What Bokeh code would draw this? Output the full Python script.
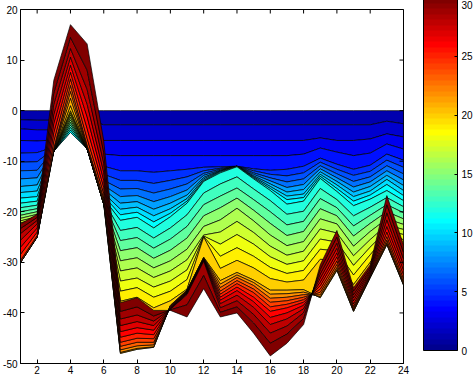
import numpy as np
from bokeh.plotting import figure
from bokeh.models import (Range1d, FixedTicker, ColorBar, LinearColorMapper, ColumnDataSource)
from bokeh.layouts import row
from bokeh.embed import file_html
from bokeh.resources import INLINE

# ---------------- data: stacked-area boundary levels c0..c30 at each x ----------------
x_values = list(range(1, 25))

levels_x01 = [0, -1.8, -3.6, -5.9, -8.4, -10.2, -11.9, -13.5, -15.0, -16.2, -17.3, -18.3, -19.2, -20.0, -20.7, -21.3, -21.8, -22.2, -22.6, -23.0, -30.0, -30.0, -30.0, -30.0, -29.6, -28.4, -27.0, -25.6, -24.3, -23.3, -22.4]
levels_x02 = [0, -1.9, -3.8, -6.0, -8.3, -10.1, -11.8, -13.3, -14.7, -15.9, -17.0, -17.9, -18.7, -19.4, -20.0, -20.5, -21.0, -21.4, -21.8, -22.2, -25.0, -25.0, -25.0, -25.0, -24.7, -24.0, -23.2, -22.4, -21.7, -21.1, -20.5]
levels_x03 = [0, -1.9, -3.8, -5.8, -7.2, -7.6, -7.8, -7.9, -8.0, -8.0, -8.0, -8.0, -8.0, -8.0, -8.0, -8.0, -8.0, -8.0, -8.0, -8.0, -8.0, -7.9, -7.7, -7.4, -6.0, -4.3, -2.5, -0.7, 1.3, 3.5, 6.0]
levels_x04 = [0, -0.4, -0.9, -1.3, -1.7, -2.2, -2.6, -3.0, -3.4, -3.9, -4.3, -3.8, -3.3, -2.8, -2.3, -1.8, -1.3, -0.8, -0.4, 0.0, 1.0, 2.5, 3.8, 5.0, 6.3, 7.6, 9.0, 10.6, 12.3, 14.5, 17.0]
levels_x05 = [0, -1.9, -3.8, -5.4, -6.5, -7.0, -7.3, -7.5, -7.5, -7.5, -7.5, -7.5, -7.5, -7.5, -7.5, -7.5, -7.5, -7.5, -7.5, -7.5, -7.5, -7.4, -7.2, -6.8, -5.5, -3.5, -1.2, 1.3, 4.2, 8.0, 13.2]
levels_x06 = [0, -2.8, -5.9, -8.6, -11.0, -12.6, -13.8, -14.8, -15.6, -16.3, -16.9, -17.4, -17.8, -18.1, -18.3, -18.5, -18.5, -18.5, -18.5, -18.5, -18.5, -18.3, -17.9, -17.3, -16.4, -15.2, -13.8, -12.2, -10.4, -8.3, -6.0]
levels_x07 = [0, -2.8, -5.9, -8.9, -11.9, -13.8, -15.5, -17.0, -18.3, -19.5, -20.6, -21.7, -23.7, -25.7, -27.7, -29.7, -31.7, -33.7, -35.7, -37.7, -48.0, -47.8, -47.3, -46.6, -45.8, -44.8, -43.7, -42.5, -41.2, -39.7, -38.0]
levels_x08 = [0, -2.8, -5.9, -8.9, -11.9, -13.8, -15.4, -16.8, -18.0, -19.1, -20.1, -21.1, -23.1, -25.1, -27.1, -29.1, -31.1, -33.1, -35.0, -36.9, -47.2, -47.0, -46.5, -45.8, -45.0, -44.0, -42.9, -41.7, -40.4, -38.8, -37.0]
levels_x09 = [0, -2.8, -5.9, -8.9, -12.2, -14.4, -16.3, -18.0, -19.5, -20.8, -22.0, -23.2, -25.2, -27.2, -29.2, -31.1, -33.0, -34.9, -36.9, -39.0, -46.8, -46.7, -46.3, -45.8, -45.1, -44.3, -43.4, -42.5, -41.6, -40.6, -39.5]
levels_x10 = [0, -2.8, -5.9, -8.9, -11.9, -13.8, -15.5, -17.0, -18.3, -19.4, -20.3, -21.0, -23.2, -25.4, -27.6, -29.7, -31.7, -33.7, -35.7, -37.6, -38.5, -38.6, -38.7, -38.8, -38.9, -39.0, -39.1, -39.2, -39.3, -39.4, -39.5]
levels_x11 = [0, -2.8, -5.9, -8.9, -11.6, -13.1, -14.5, -15.7, -16.7, -17.4, -17.9, -18.3, -20.6, -22.9, -25.2, -27.4, -29.5, -31.5, -33.4, -35.3, -35.5, -35.6, -35.7, -35.8, -35.9, -36.0, -36.1, -36.2, -36.4, -38.4, -40.8]
levels_x12 = [0, -2.8, -5.9, -8.9, -11.2, -11.9, -12.4, -12.8, -13.2, -13.5, -13.8, -14.0, -16.3, -18.6, -20.8, -22.9, -24.6, -24.8, -24.9, -25.0, -29.0, -29.1, -29.2, -29.3, -29.4, -29.5, -29.6, -29.7, -29.8, -32.6, -35.2]
levels_x13 = [0, -2.8, -5.9, -8.9, -11.1, -11.4, -11.6, -11.8, -11.9, -12.0, -12.1, -12.3, -14.5, -16.9, -19.2, -21.6, -24.0, -26.4, -28.8, -31.2, -33.6, -34.3, -35.0, -35.7, -36.3, -36.9, -37.5, -38.2, -39.0, -39.9, -40.8]
levels_x14 = [0, -2.8, -5.9, -8.9, -11.0, -11.0, -11.0, -11.0, -11.0, -11.0, -11.0, -11.1, -13.1, -15.3, -17.3, -19.3, -21.9, -24.5, -27.1, -29.6, -32.0, -32.5, -33.0, -33.6, -34.2, -34.9, -35.6, -36.5, -37.6, -38.8, -40.0]
levels_x15 = [0, -2.8, -5.9, -8.9, -11.5, -11.9, -12.3, -12.6, -12.9, -13.1, -13.3, -13.5, -15.5, -17.6, -19.7, -21.8, -24.1, -26.4, -28.8, -31.1, -33.5, -34.0, -34.6, -35.3, -36.0, -36.9, -37.8, -38.9, -40.3, -42.0, -44.0]
levels_x16 = [0, -2.8, -5.9, -8.9, -11.8, -12.6, -13.3, -13.9, -14.5, -15.0, -15.4, -15.8, -17.8, -20.0, -22.3, -24.6, -26.8, -28.9, -31.0, -33.2, -35.5, -36.3, -37.1, -37.9, -38.8, -39.7, -40.9, -42.3, -44.0, -46.0, -48.5]
levels_x17 = [0, -2.8, -5.9, -8.9, -11.6, -12.9, -14.1, -15.2, -16.1, -16.9, -17.6, -18.5, -20.5, -22.6, -24.7, -26.7, -28.6, -30.4, -32.2, -33.9, -35.5, -36.2, -36.9, -37.6, -38.3, -39.0, -40.0, -41.2, -42.6, -44.2, -46.0]
levels_x18 = [0, -2.8, -5.9, -8.6, -11.0, -12.3, -13.5, -14.6, -15.6, -16.5, -17.2, -17.9, -19.9, -21.9, -23.9, -25.9, -27.8, -29.7, -31.6, -33.5, -35.4, -35.9, -36.4, -36.9, -37.4, -37.9, -38.5, -39.2, -40.0, -41.1, -42.3]
levels_x19 = [0, -2.8, -5.4, -7.4, -9.4, -10.2, -10.9, -11.5, -12.1, -12.6, -13.0, -13.4, -15.4, -17.4, -19.4, -21.4, -23.4, -25.4, -27.4, -29.4, -37.0, -36.8, -36.4, -35.9, -35.3, -34.6, -33.9, -33.1, -32.3, -31.4, -30.5]
levels_x20 = [0, -2.8, -5.9, -8.2, -10.6, -11.6, -12.5, -13.3, -14.0, -14.7, -15.4, -16.0, -17.6, -19.2, -20.8, -22.4, -24.2, -26.0, -27.8, -29.6, -31.6, -31.4, -31.0, -30.4, -29.7, -28.9, -28.1, -27.2, -26.2, -25.0, -23.7]
levels_x21 = [0, -2.8, -5.9, -8.9, -11.6, -12.8, -14.0, -15.1, -16.1, -17.0, -17.9, -18.8, -20.8, -22.8, -24.8, -26.8, -28.7, -30.6, -32.5, -34.4, -39.7, -39.6, -39.4, -39.1, -38.7, -38.2, -37.6, -37.0, -36.4, -35.7, -35.0]
levels_x22 = [0, -2.8, -5.6, -8.4, -10.8, -12.0, -13.1, -14.1, -15.0, -15.9, -16.7, -17.5, -19.1, -20.7, -22.3, -23.9, -25.5, -27.0, -28.5, -30.0, -33.0, -33.0, -32.9, -32.7, -32.5, -32.3, -32.0, -31.7, -31.4, -31.0, -30.5]
levels_x23 = [0, -2.1, -4.6, -6.6, -8.6, -9.8, -10.9, -11.9, -12.8, -13.6, -14.6, -15.8, -17.2, -18.6, -20.0, -21.4, -22.6, -23.7, -24.7, -25.6, -26.5, -26.4, -26.1, -25.6, -24.9, -24.0, -22.9, -21.6, -20.2, -18.6, -16.8]
levels_x24 = [0, -2.6, -5.2, -7.6, -9.8, -11.2, -12.5, -13.7, -14.8, -15.8, -16.8, -17.8, -19.0, -20.2, -21.4, -22.5, -23.5, -24.5, -25.5, -26.5, -34.5, -34.4, -34.2, -33.8, -33.2, -32.4, -31.5, -30.5, -29.3, -28.0, -26.5]

x_tick_values = [2, 4, 6, 8, 10, 12, 14, 16, 18, 20, 22, 24]
y_tick_values = [-50, -40, -30, -20, -10, 0, 10, 20]
colorbar_ticks = [0, 5, 10, 15, 20, 25, 30]
n_series = 30
x_lo, x_hi = 1, 24
y_lo, y_hi = -50, 20

columns = [levels_x01, levels_x02, levels_x03, levels_x04, levels_x05, levels_x06,
           levels_x07, levels_x08, levels_x09, levels_x10, levels_x11, levels_x12,
           levels_x13, levels_x14, levels_x15, levels_x16, levels_x17, levels_x18,
           levels_x19, levels_x20, levels_x21, levels_x22, levels_x23, levels_x24]


# ---------------- MATLAB jet(64) colormap ----------------
def matlab_jet(m=64):
    n = int(np.ceil(m / 4))
    u = np.concatenate([np.arange(1, n + 1) / n, np.ones(n - 1), np.arange(n, 0, -1) / n])
    g = int(np.ceil(n / 2)) - (1 if m % 4 == 1 else 0) + np.arange(1, len(u) + 1)
    r = g + n
    b = g - n
    J = np.zeros((m, 3))
    for col, idxs in ((0, r), (1, g), (2, b)):
        for idx, val in zip(idxs, u):
            if 1 <= idx <= m:
                J[idx - 1, col] = val
    return ["#%02x%02x%02x" % tuple(int(round(c * 255)) for c in rowc) for rowc in J]


jet = matlab_jet(64)

curves = np.array(columns, dtype=float).T  # (31, 24)

xs, ys, fills = [], [], []
for k in range(1, n_series + 1):
    xs.append(x_values + x_values[::-1])
    ys.append(list(curves[k]) + list(curves[k - 1][::-1]))
    fills.append(jet[min(63, (k * 64) // n_series)])

src = ColumnDataSource(dict(xs=xs, ys=ys, fill=fills))

FONT = "Liberation Sans"

p = figure(width=410, height=376, toolbar_location=None, output_backend="svg",
           x_range=Range1d(x_lo, x_hi), y_range=Range1d(y_lo, y_hi),
           min_border_left=20, min_border_right=7, min_border_top=9, min_border_bottom=13)
p.patches("xs", "ys", source=src, fill_color="fill", line_color="black", line_width=0.7)

# mirrored inward ticks on the top and right edges of the box
p.scatter(x=x_tick_values, y=[y_hi] * len(x_tick_values), marker="dash", size=8,
          angle=np.pi / 2, line_color="black", line_width=1)
p.scatter(x=[x_hi] * len(y_tick_values), y=y_tick_values, marker="dash", size=8,
          line_color="black", line_width=1)

p.grid.visible = False
p.outline_line_color = "black"
p.outline_line_width = 1
p.background_fill_color = "white"
p.border_fill_color = "white"

for ax in (p.xaxis[0], p.yaxis[0]):
    ax.major_tick_in = 4
    ax.major_tick_out = 0
    ax.minor_tick_line_color = None
    ax.axis_line_color = "black"
    ax.major_tick_line_color = "black"
    ax.major_label_text_font = FONT
    ax.major_label_text_font_size = "10px"
    ax.major_label_text_color = "black"
    ax.major_label_standoff = 3

p.xaxis[0].ticker = FixedTicker(ticks=x_tick_values)
p.yaxis[0].ticker = FixedTicker(ticks=y_tick_values)
p.xaxis[0].major_label_overrides = {v: str(v) for v in x_tick_values}
p.yaxis[0].major_label_overrides = {v: str(v) for v in y_tick_values}
p.xaxis[0].major_label_standoff = 2

# ---------------- colorbar ----------------
cbf = figure(width=65, height=376, toolbar_location=None, output_backend="svg",
             x_axis_type=None, y_axis_type=None, min_border=0,
             outline_line_color=None, x_range=Range1d(0, 1), y_range=Range1d(0, 1))
cbf.grid.visible = False
mapper = LinearColorMapper(palette=jet, low=0, high=30)
cb = ColorBar(color_mapper=mapper, location=(13, 13), width=34, height=353, padding=0,
              ticker=FixedTicker(ticks=colorbar_ticks),
              major_label_text_font=FONT, major_label_text_font_size="10px",
              major_label_text_color="black",
              bar_line_color="black", major_tick_line_color="black",
              major_tick_in=3, major_tick_out=0, label_standoff=4,
              background_fill_alpha=0, border_line_color=None)
cbf.add_layout(cb, "center")

layout = row(p, cbf)
open("out.html", "w").write(file_html(layout, INLINE))
